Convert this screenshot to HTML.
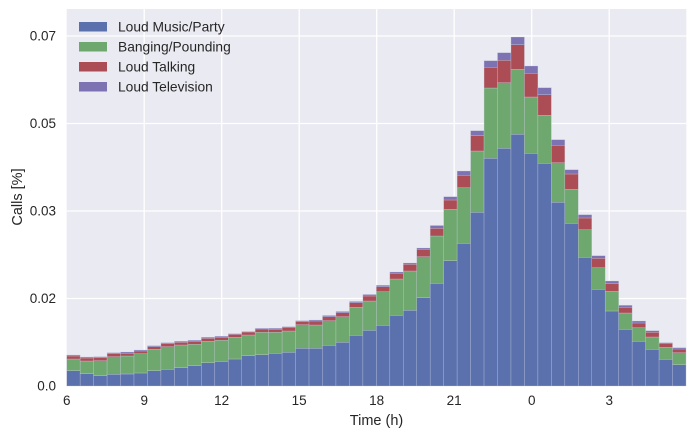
<!DOCTYPE html>
<html><head><meta charset="utf-8"><style>
html,body{margin:0;padding:0;background:#fff;}
svg{display:block;font-family:"Liberation Sans",Arial,sans-serif;}
</style></head><body>
<svg id="s" width="696" height="439" xmlns="http://www.w3.org/2000/svg">
<rect x="66.7" y="9" width="619.6" height="377" fill="#EAEAF2"/>
<g id="grid" stroke="#fff" stroke-width="1.3"></g>
<g id="bars"></g>
<g font-size="13.5" fill="#262626" text-anchor="end">
<text x="56" y="390.5">0.0</text>
<text x="56" y="303">0.02</text>
<text x="56" y="215.5">0.03</text>
<text x="56" y="128">0.05</text>
<text x="56" y="40.5">0.07</text>
</g>
<g font-size="13.5" fill="#262626" text-anchor="middle">
<text x="66.7" y="405">6</text>
<text x="144.2" y="405">9</text>
<text x="221.7" y="405">12</text>
<text x="299.2" y="405">15</text>
<text x="376.7" y="405">18</text>
<text x="454.2" y="405">21</text>
<text x="531.7" y="405">0</text>
<text x="609.2" y="405">3</text>
<text x="376.5" y="425" font-size="14.5">Time (h)</text>
<text x="0" y="0" font-size="14.5" transform="translate(22,197) rotate(-90)">Calls [%]</text>
</g>
<g font-size="13.8" fill="#262626">
<rect x="79" y="22" width="28" height="9.5" fill="#5a71ad"/><text x="118" y="31.5">Loud Music/Party</text>
<rect x="79" y="42" width="28" height="9.5" fill="#6fa86e"/><text x="118" y="51.5">Banging/Pounding</text>
<rect x="79" y="62" width="28" height="9.5" fill="#ac4d55"/><text x="118" y="71.5">Loud Talking</text>
<rect x="79" y="82" width="28" height="9.5" fill="#7d73b3"/><text x="118" y="91.5">Loud Television</text>
</g>
</svg>
<script>
var d=[[370.7,359,356,355],[373.7,361,358,357],[375.7,360.7,357.7,356.7],[374.3,356.7,353.7,352.7],[374,356,353.3,352],[373,353.7,351,350],[370.7,349.3,346.7,345.7],[369.3,346.7,343.7,342.7],[367.7,345,342.3,341.3],[365.7,344.3,341.3,340.3],[362.7,341.3,338.3,337.3],[361.5,340.3,337.3,336.3],[359,337.3,334.3,333.7],[355.7,335,332,331.5],[354.7,332.3,329,328.3],[353.3,332.3,329.3,328.3],[352.3,331,327.3,326.7],[348.3,324.7,321.7,320.7],[348.3,325,321,320],[345.3,320.7,316.7,315.5],[342.3,316.7,312.7,311.5],[335.3,307.3,302.7,301.5],[330.3,301,296,294.5],[325.3,291.7,286.7,285.3],[315.3,279,273.3,272],[310.3,271,264.3,263],[297.7,256.7,249.3,248],[283.3,236,228.3,225.5],[260.7,209.3,200,196.7],[243.3,187.7,175.3,171],[212.3,151,135.7,130.7],[158.3,88,67.3,60.7],[148.3,82.7,60.3,52.7],[134.3,69.3,44.7,37],[153.3,97,73.3,66],[163.3,115.3,94.7,87.7],[202.3,162.7,145.3,139.7],[223.3,189.3,174,169.7],[257.3,229.7,218,214.7],[289.3,267.7,258.3,255.7],[311,291.3,283.7,281],[329.3,313,307.3,305.3],[341.3,327.7,323,321],[349.3,337,332.3,330.7],[359.3,347.3,343.3,342.7],[364.7,352.7,349,347.7]];
var ns="http://www.w3.org/2000/svg",g=document.getElementById('grid'),b=document.getElementById('bars');
function r(p,a){var e=document.createElementNS(ns,'rect');for(var k in a)e.setAttribute(k,a[k]);p.appendChild(e);}
function l(x1,y1,x2,y2){var e=document.createElementNS(ns,'line');e.setAttribute('x1',x1);e.setAttribute('y1',y1);e.setAttribute('x2',x2);e.setAttribute('y2',y2);g.appendChild(e);}
[298.5,211,123.5,36].forEach(function(y){l(66.7,y,686.3,y);});
for(var i=1;i<8;i++){var x=66.7+77.5*i;l(x,9,x,386);}
var c=["#5a71ad","#6fa86e","#ac4d55","#7d73b3"],w=13.463;
d.forEach(function(v,i){var x=66.7+w*i,prev=386;for(var k=0;k<4;k++){r(b,{x:x,y:v[k],width:w,height:prev-v[k],fill:c[k],stroke:"#c8cce0","stroke-width":0.5,"stroke-opacity":0.6});prev=v[k];}});
</script>
</body></html>
